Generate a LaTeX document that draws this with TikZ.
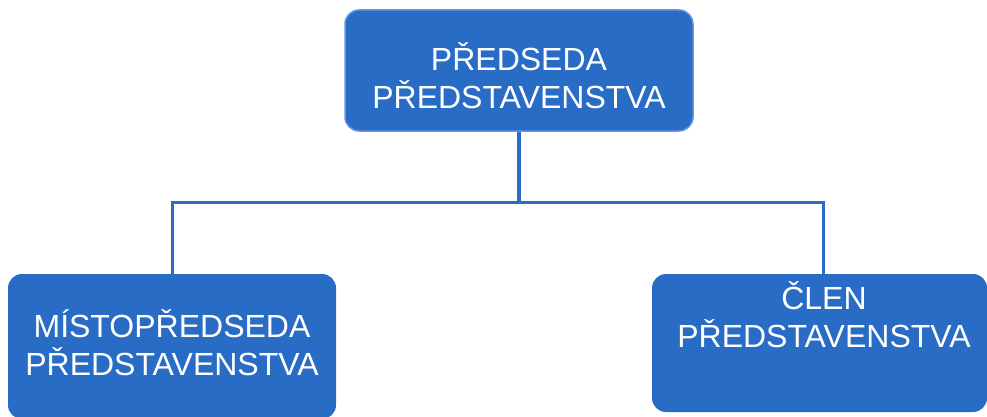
\documentclass[tikz,border=0pt]{standalone}
\usepackage{fontspec}
\setmainfont{Liberation Sans}
\definecolor{boxblue}{RGB}{41,108,198}
\definecolor{edgeblue}{RGB}{100,150,228}
\definecolor{lineblue}{RGB}{43,108,198}
\begin{document}
\begin{tikzpicture}[x=1pt,y=-1pt,
  orgbox/.style={fill=boxblue,rounded corners=14pt},
  orgtext/.style={text=white,font=\fontsize{32}{37.5}\selectfont,align=center,inner sep=0pt},
  conn/.style={draw=lineblue,line width=3.3pt}]
\useasboundingbox (0,0) rectangle (987,417);
\coordinate (topc) at (519,131);
\coordinate (leftc) at (172.3,274);
\coordinate (rightc) at (823.3,274);
\coordinate (mid) at (519,202.7);
\draw[conn] (topc) -- (mid) -| (leftc);
\draw[conn] (mid) -| (rightc);
\path[orgbox,draw=edgeblue,line width=1.5pt] (345,10) rectangle (693,131);
\path[orgbox] (8,274) rectangle (336,419);
\path[orgbox] (652,274) rectangle (987,412);
\node[orgtext,anchor=base] (top) at (519,108.3) {PŘEDSEDA\\PŘEDSTAVENSTVA};
\node[orgtext,anchor=base] (left) at (172,375) {MÍSTOPŘEDSEDA\\PŘEDSTAVENSTVA};
\node[orgtext,anchor=base] (right) at (824,347.3) {ČLEN\\PŘEDSTAVENSTVA};
\end{tikzpicture}
\end{document}
